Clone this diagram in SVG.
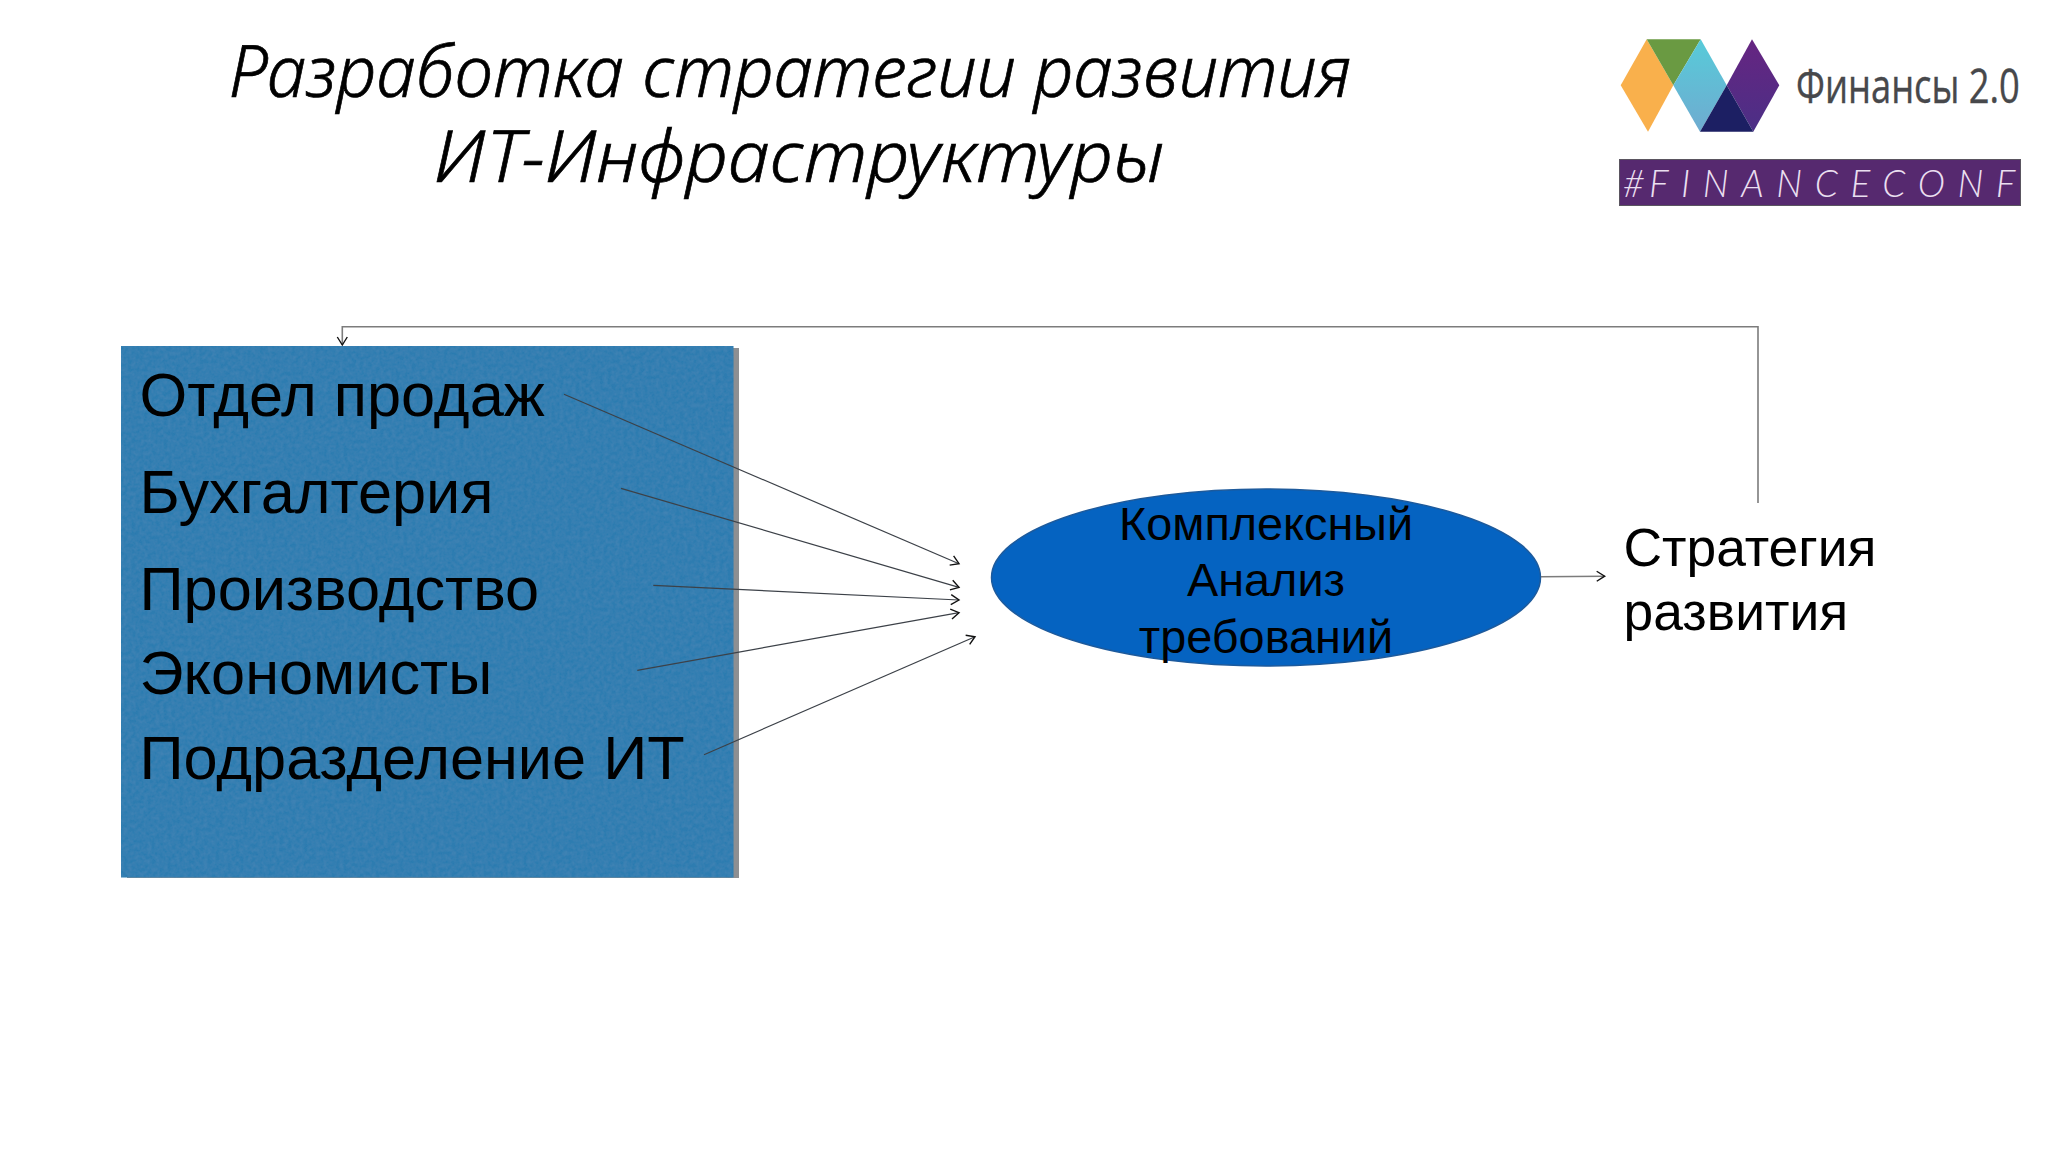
<svg xmlns="http://www.w3.org/2000/svg" width="2048" height="1152" viewBox="0 0 2048 1152">
<style>
.title{font-family:"Noto Sans","Open Sans",sans-serif;font-size:71px;font-style:italic;font-weight:300;fill:#000;stroke:#000;stroke-width:.7}
.list{font-family:"Liberation Sans",Arial,sans-serif;font-size:61.3px;fill:#000}
.oval{font-family:"Liberation Sans",Arial,sans-serif;font-size:46.8px;fill:#000;text-anchor:middle}
.out{font-family:"Liberation Sans",Arial,sans-serif;font-size:53.4px;fill:#000}
.c{fill:none;stroke:#3c4148;stroke-width:1.2}
.g{fill:none;stroke:#7c7c7c;stroke-width:1.6}
</style>
<defs>
<marker id="a" markerUnits="userSpaceOnUse" markerWidth="16" markerHeight="16" refX="9" refY="6" orient="auto" overflow="visible"><path d="M1 1 L9 6 L1 11" fill="none" stroke="#111" stroke-width="1.4"/></marker>
<linearGradient id="teal" x1="0" y1="0" x2="0" y2="1"><stop offset="0" stop-color="#57cbd9"/><stop offset="1" stop-color="#6fabd0"/></linearGradient>
<linearGradient id="pur" x1="0" y1="0" x2="0" y2="1"><stop offset="0" stop-color="#662581"/><stop offset="1" stop-color="#4b2f86"/></linearGradient>
<filter id="paper" x="0" y="0" width="100%" height="100%"><feTurbulence type="fractalNoise" baseFrequency="0.25" numOctaves="2" seed="4" result="n"/><feColorMatrix in="n" type="matrix" values="0 0 0 0 0.55  0 0 0 0 0.75  0 0 0 0 0.9  0.08 0 0 0 -0.02"/><feComposite in2="SourceGraphic" operator="in" result="t"/><feMerge><feMergeNode in="SourceGraphic"/><feMergeNode in="t"/></feMerge></filter>
</defs>
<rect width="2048" height="1152" fill="#fff"/>
<g id="title">
<text class="title" x="229" y="97" textLength="1122" lengthAdjust="spacingAndGlyphs">Разработка стратегии развития</text>
<text class="title" x="434" y="182" textLength="730" lengthAdjust="spacingAndGlyphs">ИТ-Инфраструктуры</text>
</g>
<g id="logo">
<polygon points="1620.7,85.3 1646.7,39.3 1673.3,85.3 1648,131.7" fill="#f9b04c"/>
<polygon points="1646.7,39.3 1700.7,39.3 1673.3,85.3" fill="#6a9a42"/>
<polygon points="1700.7,39.3 1726.7,85.3 1700,131.7 1673.3,85.3" fill="url(#teal)"/>
<polygon points="1752,39.3 1779.3,85.3 1753.3,131.7 1726.7,85.3" fill="url(#pur)"/>
<polygon points="1726.7,85.3 1753.3,131.7 1700,131.7" fill="#1c1f63"/>
<text transform="translate(1796 102.7) scale(.764 1)" font-family="'Open Sans',sans-serif" font-size="48" fill="#47484b" stroke="#47484b" stroke-width=".4" textLength="293" lengthAdjust="spacingAndGlyphs">Финансы 2.0</text>
<rect x="1619.5" y="159.5" width="401" height="46" fill="#56296f" stroke="#5a5560" stroke-width="1"/>
<text x="1623" y="196.7" font-family="Lato,'Open Sans',sans-serif" font-size="37" font-style="italic" font-weight="300" fill="#eadff0">#<tspan x="1649" letter-spacing="12.5">FINANCECONF</tspan></text>
</g>
<g id="departments">
<rect x="127" y="348" width="612" height="530" fill="#8d8f92"/>
<rect x="121" y="346" width="612.5" height="531.5" fill="#2e7bb0" filter="url(#paper)"/>
<text class="list" x="139.5" y="415.5">Отдел продаж</text>
<text class="list" x="139.5" y="512.5">Бухгалтерия</text>
<text class="list" x="139.5" y="609.5">Производство</text>
<text class="list" x="139.5" y="693.5">Экономисты</text>
<text class="list" x="139.5" y="778.5">Подразделение ИТ</text>
</g>
<g id="analysis">
<ellipse cx="1266" cy="577.5" rx="274.5" ry="88.5" fill="#0563c1" stroke="#1d5a9c" stroke-width="1.5"/>
<text class="oval" x="1266" y="540">Комплексный</text>
<text class="oval" x="1266" y="596">Анализ</text>
<text class="oval" x="1266" y="652.7">требований</text>
</g>
<g id="strategy">
<text class="out" x="1623.5" y="566">Стратегия</text>
<text class="out" x="1623.5" y="630">развития</text>
</g>
<g id="connectors">
<path class="c" d="M564 394.3 L959 563.7" marker-end="url(#a)"/>
<path class="c" d="M621 488.3 L959 587.3" marker-end="url(#a)"/>
<path class="c" d="M653.3 585.3 L959 600" marker-end="url(#a)"/>
<path class="c" d="M637.3 670.3 L959 612.7" marker-end="url(#a)"/>
<path class="c" d="M704 754.7 L975 636.7" marker-end="url(#a)"/>
<path class="g" d="M1541 576.7 L1604.7 576.2" marker-end="url(#a)"/>
<path class="g" d="M1758 503 L1758 326.7 L342.3 326.7 L342.3 345" marker-end="url(#a)"/>
</g>
</svg>
